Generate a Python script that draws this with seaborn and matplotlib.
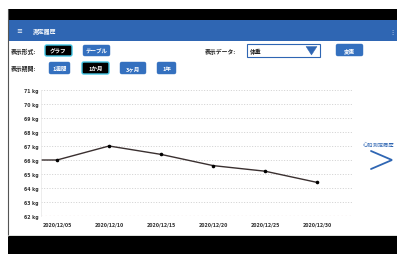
import numpy as np
import pandas as pd
import matplotlib
matplotlib.use("Agg")
import matplotlib.pyplot as plt
import matplotlib.dates as mdates
from matplotlib.patches import Rectangle, FancyBboxPatch, Polygon
import seaborn as sns

# ---- data ----
dates = ["2020/12/01", "2020/12/05", "2020/12/10", "2020/12/15",
         "2020/12/20", "2020/12/25", "2020/12/30"]
weights = [66.0, 66.0, 67.0, 66.4, 65.6, 65.2, 64.4]
y_ticks = [62, 63, 64, 65, 66, 67, 68, 69, 70, 71]
x_ticks = ["2020/12/05", "2020/12/10", "2020/12/15",
           "2020/12/20", "2020/12/25", "2020/12/30"]

sns.set_theme(style="white")
plt.rcParams['font.family'] = ['Noto Sans CJK JP', 'DejaVu Sans']

W, H = 397, 255
fig = plt.figure(figsize=(W / 100, H / 100), dpi=100)
fig.patch.set_facecolor("white")

# pixel-space background axes
bg = fig.add_axes([0, 0, 1, 1])
bg.set_xlim(0, W)
bg.set_ylim(H, 0)
bg.axis("off")

BLUE = "#2f66b3"
BTN = "#3470bf"
CYAN = "#43c6e4"

# frame
bg.add_patch(Rectangle((8, 10), W - 8, 10.5, color="black", lw=0))
bg.add_patch(Rectangle((8, 20.5), W - 8, 21, color=BLUE, lw=0))
bg.add_patch(Rectangle((8, 237), W - 8, 18, color="black", lw=0))
bg.plot([8, 8], [10, 237], color="#555555", lw=0.8)
bg.plot([8, W], [236.2, 236.2], color="#d8dcd8", lw=0.6)

# header
bg.text(19, 31.5, "≡", color="white", fontsize=5, ha="center", va="center",
        family=['DejaVu Sans'])
bg.text(33, 31.5, "測定履歴", color="white", fontsize=4.2, ha="left", va="center",
        fontweight="bold")
bg.text(392, 31.5, "⋮", color="white", fontsize=4.5, ha="center", va="center",
        family=['DejaVu Sans'])


def button(x0, x1, y0, y1, label, active=False):
    fc = "black" if active else BTN
    ec = CYAN if active else BTN
    bg.add_patch(FancyBboxPatch((x0, y0), x1 - x0, y1 - y0,
                                boxstyle="round,pad=0,rounding_size=1.8",
                                fc=fc, ec=ec, lw=1.0 if active else 0.3))
    bg.text((x0 + x1) / 2, (y0 + y1) / 2 + 0.3, label, color="white",
            fontsize=4.0, ha="center", va="center", fontweight="bold")


# row 1
bg.text(11, 51.5, "表示形式:", color="#222222", fontsize=4.2, ha="left", va="center",
        fontweight="bold")
button(45, 72, 46, 57, "グラフ", active=True)
button(83, 110, 46, 57, "テーブル")
bg.text(205, 51.5, "表示データ:", color="#222222", fontsize=4.2, ha="left", va="center",
        fontweight="bold")
bg.add_patch(Rectangle((247, 45), 73, 13, fc="white", ec=BLUE, lw=0.8))
bg.text(250, 51.5, "体重", color="#222222", fontsize=4.2, ha="left", va="center",
        fontweight="bold")
bg.add_patch(Polygon([[306, 47.5], [317, 47.5], [311.5, 56]], closed=True,
                     fc=BLUE, ec=BLUE, lw=0.3))
button(336, 363, 45, 57, "変更")

# row 2
bg.text(11, 69, "表示期間:", color="#222222", fontsize=4.2, ha="left", va="center",
        fontweight="bold")
button(49, 70, 63, 75, "1週間")
button(82, 109, 63, 75, "1か月", active=True)
button(120, 146, 63, 75, "3ヶ月")
button(157, 176, 63, 75, "1年")

# right navigation
bg.text(363, 145, "心拍測定履歴", color=BLUE, fontsize=3.8, ha="left", va="center")
bg.plot([371, 392, 371], [152, 161, 170], color=BLUE, lw=1.3,
        solid_joinstyle="miter")

# ---- chart ----
left, right, top, bottom = 41, 353, 91, 217
ax = fig.add_axes([left / W, 1 - bottom / H, (right - left) / W, (bottom - top) / H])
ax.patch.set_alpha(0)

df = pd.DataFrame({"date": pd.to_datetime(dates, format="%Y/%m/%d"),
                   "weight": weights})
sns.lineplot(data=df, x="date", y="weight", ax=ax, color="#3a3030",
             lw=1.0, marker="o", markersize=2.6, markeredgewidth=0,
             markerfacecolor="black", clip_on=True)

xt = pd.to_datetime(x_ticks, format="%Y/%m/%d")
ax.set_xlim(xt[0] - pd.Timedelta(hours=37), xt[-1] + pd.Timedelta(hours=83))
ax.set_ylim(y_ticks[0], y_ticks[-1])
ax.set_yticks(y_ticks)
ax.set_yticklabels([f"{v} kg" for v in y_ticks])
ax.set_xticks(xt)
ax.set_xticklabels(x_ticks)
ax.tick_params(axis="both", length=0, labelsize=3.3, colors="#333333")
ax.tick_params(axis="y", pad=2)
ax.tick_params(axis="x", pad=4)
for lab in ax.get_xticklabels() + ax.get_yticklabels():
    lab.set_family(['DejaVu Sans'])
    lab.set_fontweight("bold")
ax.set_xlabel("")
ax.set_ylabel("")
for v in y_ticks:
    ax.axhline(v, color="#c8c8c8" if v != 62 else "#e0caca",
               lw=0.6 if v != 62 else 0.9, ls=(0, (1.2, 2.0)), zorder=0)
for s in ["top", "right", "bottom"]:
    ax.spines[s].set_visible(False)
ax.spines["left"].set_color("#e6e6e6")
ax.spines["left"].set_linewidth(0.5)
ax.grid(False)

fig.savefig("out.png", dpi=100)
